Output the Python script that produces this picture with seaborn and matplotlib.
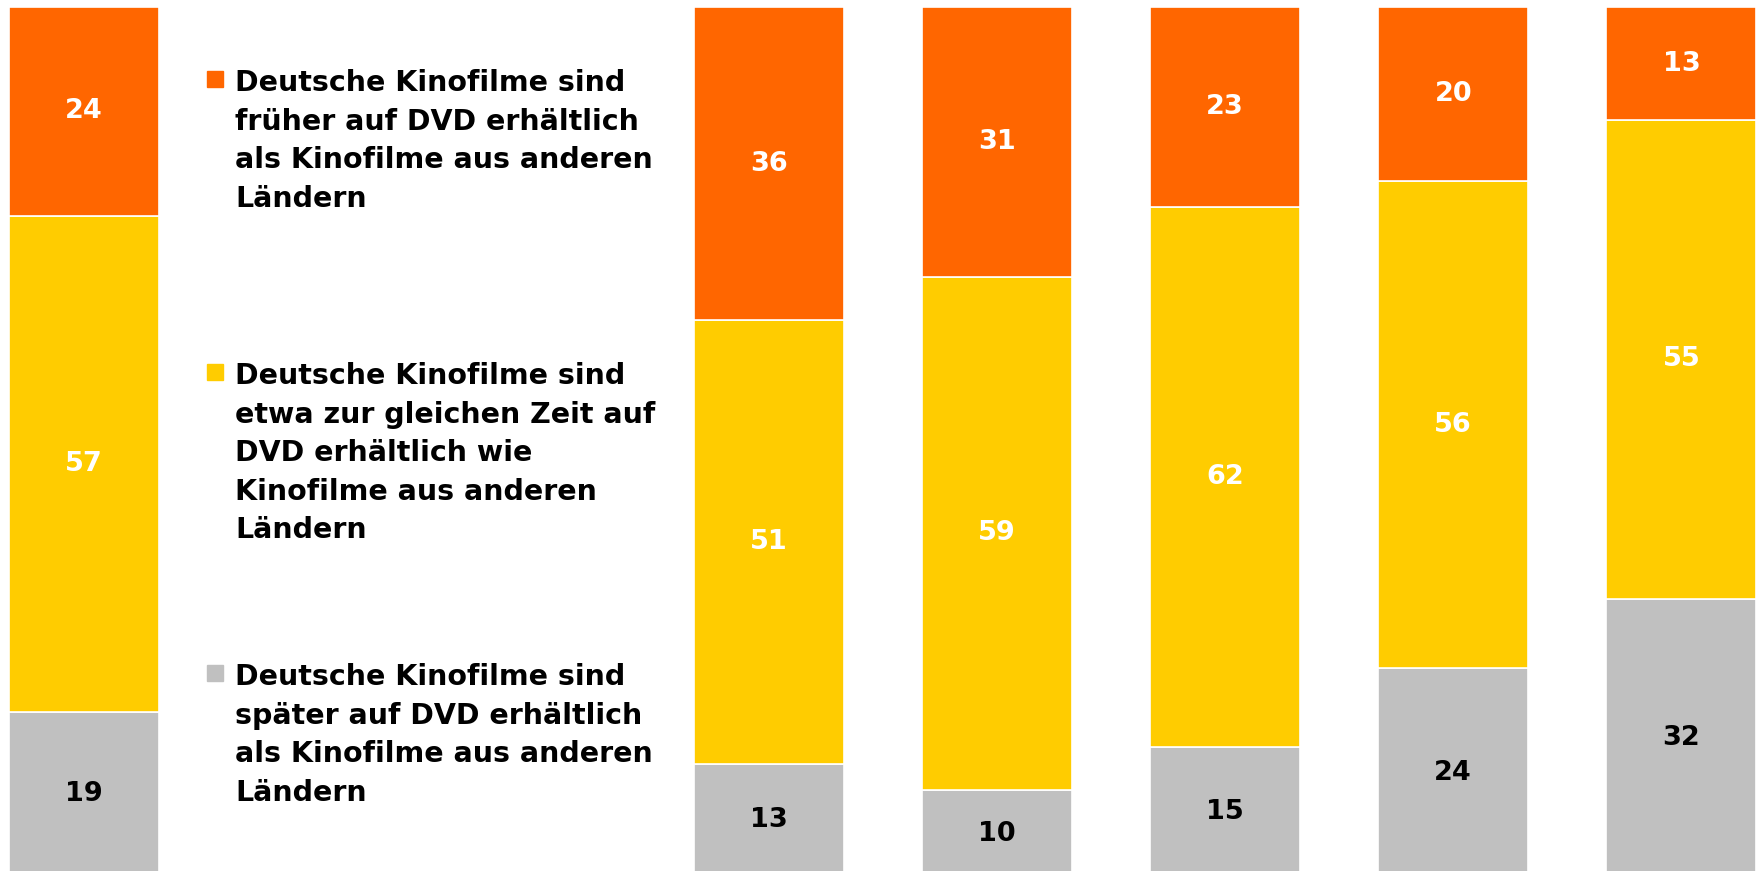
import matplotlib
matplotlib.use('Agg')
import matplotlib.pyplot as plt
from matplotlib.patches import Rectangle
import seaborn as sns

# bar slots (gap between first bar and the rest holds the legend)
positions = [0, 3, 4, 5, 6, 7]
frueher = [24, 36, 31, 23, 20, 13]
gleich = [57, 51, 59, 62, 56, 55]
spaeter = [19, 13, 10, 15, 24, 32]

series_labels = [
    'Deutsche Kinofilme sind\nfrüher auf DVD erhältlich\nals Kinofilme aus anderen\nLändern',
    'Deutsche Kinofilme sind\netwa zur gleichen Zeit auf\nDVD erhältlich wie\nKinofilme aus anderen\nLändern',
    'Deutsche Kinofilme sind\nspäter auf DVD erhältlich\nals Kinofilme aus anderen\nLändern',
]
colors = ['#FF6600', '#FFCC00', '#C0C0C0']
label_colors = ['white', 'white', 'black']

sns.set_style('white')
plt.rcParams['font.family'] = ['DejaVu Sans']

W, H = 1764, 871
fig = plt.figure(figsize=(W / 100, H / 100), dpi=100)
ax = fig.add_axes([0, -6 / H, 1, 870 / H])

# stack from the bottom: später, gleich, früher
base = [0] * len(positions)
for vals, i in [(spaeter, 2), (gleich, 1), (frueher, 0)]:
    sns.barplot(x=positions, y=vals, bottom=base, native_scale=True, width=0.657,
                color=colors[i], saturation=1, edgecolor='white', linewidth=1.2,
                errorbar=None, ax=ax)
    ax.bar_label(ax.containers[-1], labels=[str(v) for v in vals], label_type='center',
                 color=label_colors[i], fontsize=19.5, fontweight='bold')
    base = [b + v for b, v in zip(base, vals)]

ax.set_xlim(-0.368, 7.362)
ax.set_ylim(0, 100)
ax.axis('off')

# legend drawn by hand so the square sits at the first text line
legend_tops = [69, 362, 663]
for lab, c, t in zip(series_labels, colors, legend_tops):
    fig.text(235 / W, 1 - t / H, lab, fontsize=20.5, fontweight='bold', color='black',
             ha='left', va='top', linespacing=1.48)
    fig.patches.append(Rectangle((207 / W, 1 - (t + 18) / H), 16 / W, 16 / H,
                                 transform=fig.transFigure, color=c))

fig.savefig('out.png', dpi=100)
